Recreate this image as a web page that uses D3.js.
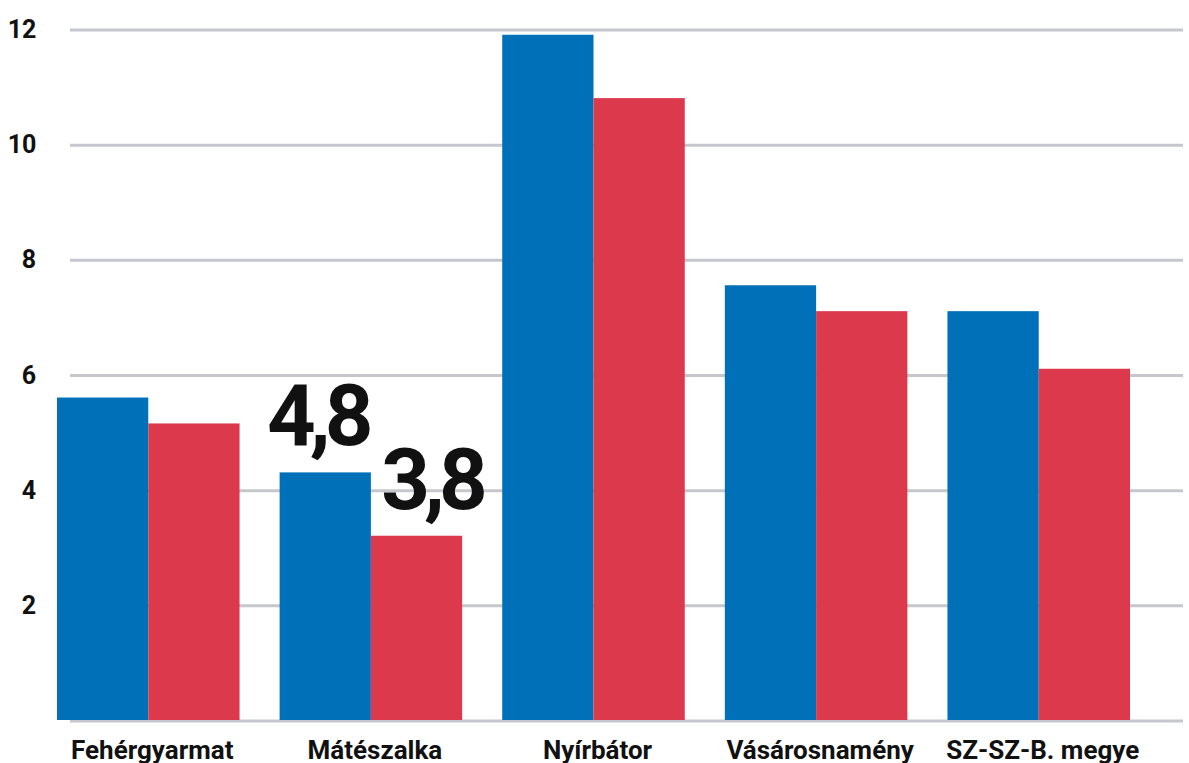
<!DOCTYPE html>
<html>
<head>
<meta charset="utf-8">
<script src="https://cdn.jsdelivr.net/npm/d3@7"></script>
<style>
  body { margin: 0; background: #fff; }
  text { font-family: Roboto, "Noto Sans", sans-serif; font-weight: 700; fill: #111; }
</style>
</head>
<body>
<script>
// chart values
let categories = ["Fehérgyarmat", "Mátészalka", "Nyírbátor", "Vásárosnamény", "SZ-SZ-B. megye"]
let seriesA = [5.6, 4.3, 11.9, 7.55, 7.1]
let seriesB = [5.15, 3.2, 10.8, 7.1, 6.1]
let yTicks = [2, 4, 6, 8, 10, 12]
let gridValues = [0, 2, 4, 6, 8, 10, 12]
let callouts = [
  { cat: "Mátészalka", series: 0, text: "4,8" },
  { cat: "Mátészalka", series: 1, text: "3,8" }
]

let width = 1189, height = 763

let svg = d3.select("body").append("svg")
    .attr("width", width)
    .attr("height", height)

// scales
let x = d3.scaleBand()
  .domain(categories)
  .range([57, 1130])
  .paddingInner(0.18)
  .paddingOuter(0)

let xInner = d3.scaleBand()
  .domain([0, 1])
  .range([0, x.bandwidth()])

let y = d3.scaleLinear()
  .domain([0, 12])
  .range([720, 29])

let colors = ["#0071b8", "#dc3a4c"]

// gridlines behind the bars
svg.append("g").selectAll("line")
  .data(gridValues)
  .enter()
  .append("line")
  .attr("x1", 70)
  .attr("x2", 1183)
  .attr("y1", d => y(d) + 1)
  .attr("y2", d => y(d) + 1)
  .attr("stroke", "#c6c7cd")
  .attr("stroke-width", 3)

// y tick labels
svg.append("g").selectAll("text")
  .data(yTicks)
  .enter()
  .append("text")
  .attr("x", d => d >= 10 ? 22 : 29)
  .attr("y", d => y(d) + 9)
  .attr("text-anchor", "middle")
  .attr("font-size", 25)
  .text(d => d)

// bars
let rows = categories.map((c, i) => ({ cat: c, vals: [seriesA[i], seriesB[i]] }))

let groups = svg.append("g").selectAll("g")
  .data(rows)
  .enter()
  .append("g")
  .attr("transform", d => `translate(${x(d.cat)},0)`)

groups.selectAll("rect")
  .data(d => d.vals.map((v, k) => ({ k, v })))
  .enter()
  .append("rect")
  .attr("x", d => xInner(d.k))
  .attr("width", xInner.bandwidth())
  .attr("y", d => y(d.v))
  .attr("height", d => y(0) - y(d.v))
  .attr("fill", d => colors[d.k])

// category labels
svg.append("g").selectAll("text")
  .data(categories)
  .enter()
  .append("text")
  .attr("x", d => x(d) + x.bandwidth() / 2 + 4)
  .attr("y", 759)
  .attr("text-anchor", "middle")
  .attr("font-size", 26)
  .text(d => d)

// big value callouts over the Mátészalka bars
svg.append("g").selectAll("text")
  .data(callouts)
  .enter()
  .append("text")
  .attr("x", d => x(d.cat) + xInner(d.series) + xInner.bandwidth() / 2 + (d.series === 0 ? -8 : 15))
  .attr("y", d => {
    let i = categories.indexOf(d.cat)
    let v = d.series === 0 ? seriesA[i] : seriesB[i]
    return y(v) - 27
  })
  .attr("text-anchor", "middle")
  .attr("font-size", 85)
  .attr("letter-spacing", -6)
  .attr("fill", "#000")
  .text(d => d.text)
</script>
</body>
</html>
